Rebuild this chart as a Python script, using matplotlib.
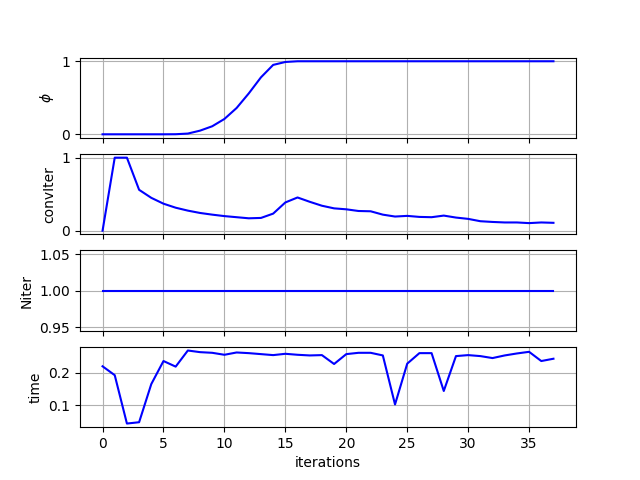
import numpy as np
import matplotlib
matplotlib.use("Agg")
import matplotlib.pyplot as plt

iterations = np.arange(38)

phi = [0.0, 0.0, 0.0, 0.0, 0.0, 0.0, 0.001, 0.01, 0.05, 0.11, 0.21, 0.36, 0.56, 0.78,
       0.95, 0.99, 1.0, 1.0, 1.0, 1.0, 1.0, 1.0, 1.0, 1.0, 1.0, 1.0, 1.0, 1.0,
       1.0, 1.0, 1.0, 1.0, 1.0, 1.0, 1.0, 1.0, 1.0, 1.0]

conv_iter = [0.0, 1.0, 1.0, 0.56, 0.45, 0.37, 0.315, 0.275, 0.243, 0.22, 0.20, 0.185,
             0.17, 0.175, 0.234, 0.387, 0.455, 0.396, 0.342, 0.306, 0.293, 0.27, 0.266,
             0.22, 0.194, 0.203, 0.189, 0.185, 0.207, 0.18, 0.162, 0.13, 0.12, 0.113,
             0.113, 0.104, 0.113, 0.108]

n_iter = [1.0] * 38

time = [0.219, 0.192, 0.045, 0.049, 0.165, 0.235, 0.218, 0.267, 0.262, 0.26, 0.254,
        0.261, 0.259, 0.256, 0.253, 0.257, 0.254, 0.252, 0.253, 0.226, 0.256, 0.26,
        0.26, 0.252, 0.103, 0.227, 0.259, 0.259, 0.144, 0.25, 0.253, 0.25, 0.244,
        0.252, 0.258, 0.263, 0.235, 0.242]

fig, axes = plt.subplots(4, 1, sharex=True, figsize=(6.4, 4.8), dpi=100)

series = [(phi, r"$\phi$"), (conv_iter, "convIter"), (n_iter, "Niter"), (time, "time")]
for ax, (vals, label) in zip(axes, series):
    ax.plot(iterations, vals, color="b")
    ax.set_ylabel(label)
    ax.grid()

axes[0].set_yticks([0, 1])
axes[1].set_yticks([0, 1])
axes[3].set_xlabel("iterations")

fig.savefig("out.png")
